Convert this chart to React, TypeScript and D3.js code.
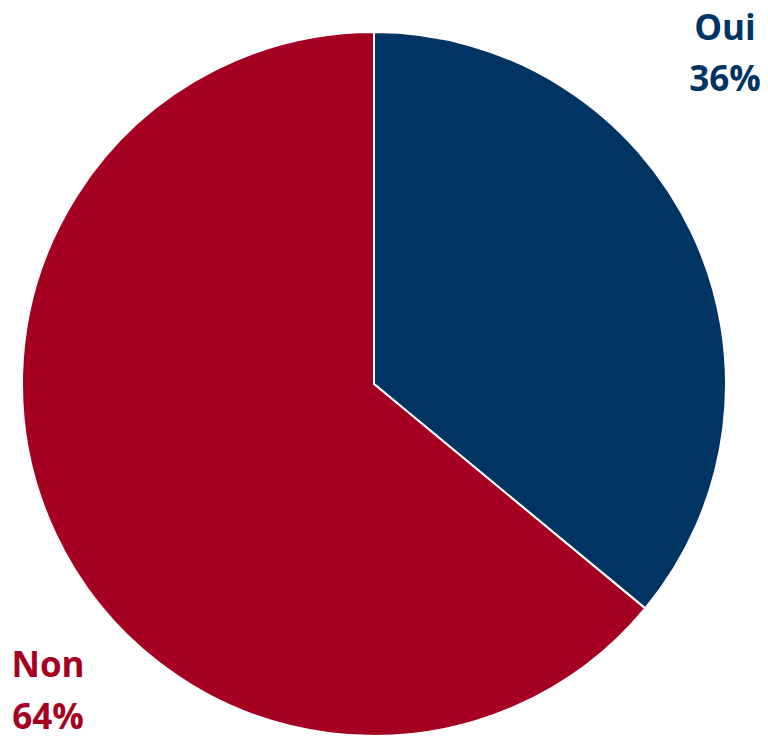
import React from "react";
import * as d3 from "d3";

const labels = ["Oui", "Non"];
const values = [36, 64];
const colors = ["#003462", "#A50021"];

const W = 768;
const H = 736;
const cx = 374;
const cy = 384;
const R = 352;

const labelPos = [
  { x: 725, y1: 40, y2: 91 },
  { x: 48, y1: 677, y2: 729 },
];

export default function App() {
  const pie = d3.pie<number>().sort(null).value((d) => d)(values);
  const arc = d3.arc<d3.PieArcDatum<number>>().innerRadius(0).outerRadius(R);
  return (
    <svg
      width={W}
      height={H}
      style={{ position: "absolute", left: 0, top: 0 }}
    >
      <rect width={W} height={H} fill="#ffffff" />
      <g transform={`translate(${cx},${cy})`}>
        {pie.map((p, i) => (
          <path
            key={i}
            d={arc(p) || ""}
            fill={colors[i]}
            stroke="#ffffff"
            strokeWidth={2}
            strokeLinejoin="round"
          />
        ))}
      </g>
      {labels.map((l, i) => (
        <g key={l}>
          <text
            x={labelPos[i].x}
            y={labelPos[i].y1}
            textAnchor="middle"
            fontFamily="'Open Sans', sans-serif"
            fontWeight="bold"
            fontSize={35}
            fill={colors[i]}
          >
            {l}
          </text>
          <text
            x={labelPos[i].x}
            y={labelPos[i].y2}
            textAnchor="middle"
            fontFamily="'Open Sans', sans-serif"
            fontWeight="bold"
            fontSize={35}
            fill={colors[i]}
          >
            {values[i]}%
          </text>
        </g>
      ))}
    </svg>
  );
}
